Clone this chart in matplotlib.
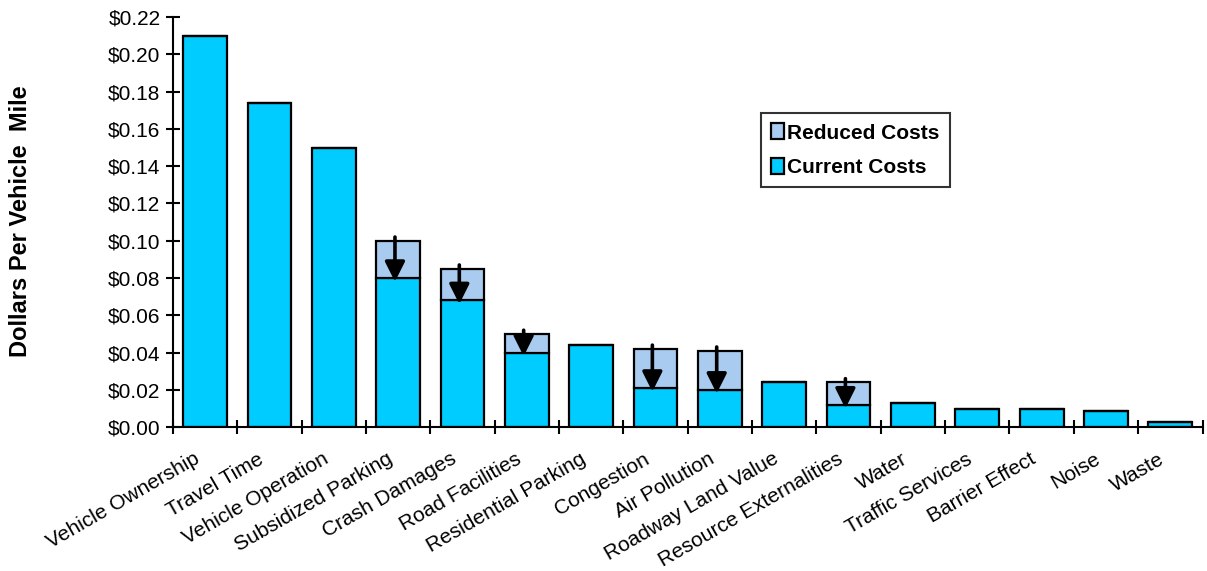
import numpy as np
import matplotlib.pyplot as plt
from matplotlib.transforms import ScaledTranslation

plt.rcParams['font.family'] = ['Liberation Sans', 'DejaVu Sans']

categories = ['Vehicle Ownership', 'Travel Time', 'Vehicle Operation', 'Subsidized Parking',
              'Crash Damages', 'Road Facilities', 'Residential Parking', 'Congestion',
              'Air Pollution', 'Roadway Land Value', 'Resource Externalities', 'Water',
              'Traffic Services', 'Barrier Effect', 'Noise', 'Waste']
# current costs (bottom bars)
current = [0.210, 0.174, 0.150, 0.080, 0.068, 0.040, 0.044, 0.021,
           0.020, 0.024, 0.012, 0.013, 0.0097, 0.0097, 0.0086, 0.0025]
# total incl. reducible part (top of light bars)
total = [0.210, 0.174, 0.150, 0.100, 0.085, 0.050, 0.044, 0.042,
         0.041, 0.024, 0.024, 0.013, 0.0097, 0.0097, 0.0086, 0.0025]
reduced = [t - c for t, c in zip(total, current)]

cyan = '#00CCFF'
light = '#A9CBEF'

fig = plt.figure(figsize=(12.07, 5.71), dpi=100)
ax = fig.add_axes([0.1433, 0.252, 0.853, 0.718])

x = np.arange(len(categories))
ax.bar(x, current, width=0.68, color=cyan, edgecolor='black', linewidth=1.6,
       label='Current Costs', zorder=2)
ax.bar(x, reduced, bottom=current, width=0.68, color=light, edgecolor='black',
       linewidth=1.6, label='Reduced Costs', zorder=2)

# arrows showing the reduction
for i in range(len(categories)):
    if reduced[i] > 0:
        ax.annotate('', xy=(i - 0.05, current[i] - 0.002), xytext=(i - 0.05, total[i] + 0.002),
                    arrowprops=dict(arrowstyle='-|>,head_length=1.2,head_width=0.6',
                                    color='black', lw=2.6, shrinkA=0, shrinkB=0),
                    zorder=3)

ax.set_xlim(-0.5, len(categories) - 0.5)
ax.set_ylim(0, 0.22)
ax.set_yticks(np.arange(0, 0.221, 0.02))
ax.set_yticklabels(['$%.2f' % v for v in np.arange(0, 0.221, 0.02)], fontsize=15)
ax.tick_params(axis='y', direction='inout', length=10, width=1.5, pad=4)

ax.set_xticks(x)
ax.set_xticklabels(categories, rotation=30, ha='right', rotation_mode='anchor', fontsize=15)
ax.tick_params(axis='x', length=0, pad=16)
shift = ScaledTranslation(-12 / 100, 0, fig.dpi_scale_trans)
for lbl in ax.get_xticklabels():
    lbl.set_transform(lbl.get_transform() + shift)
ax.set_xticks(np.arange(-0.5, len(categories)), minor=True)
ax.tick_params(axis='x', which='minor', direction='inout', length=10, width=1.5)

for s in ['top', 'right']:
    ax.spines[s].set_visible(False)
ax.spines['left'].set_linewidth(1.5)
ax.spines['bottom'].set_linewidth(1.5)

fig.text(0.017, 0.613, 'Dollars Per Vehicle  Mile', rotation=90, fontsize=17,
         fontweight='bold', ha='center', va='center')

handles, labels = ax.get_legend_handles_labels()
leg = ax.legend(handles[::-1], labels[::-1], loc='upper left',
                bbox_to_anchor=(0.571, 0.766), frameon=True, fancybox=False,
                edgecolor='black', prop={'weight': 'bold', 'size': 15},
                handlelength=0.6, handleheight=0.8, handletextpad=0.15,
                borderpad=0.5, labelspacing=0.72, borderaxespad=0)
leg.get_frame().set_linewidth(1.5)

fig.savefig('out.png', dpi=100)
